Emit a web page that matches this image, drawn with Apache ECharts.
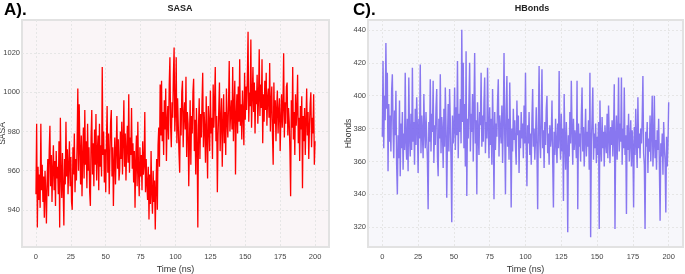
<!DOCTYPE html>
<html><head><meta charset="utf-8">
<script src="https://cdn.jsdelivr.net/npm/echarts@6/dist/echarts.min.js"></script>
<style>html,body{margin:0;padding:0;background:#fff}#c{width:685px;height:274px}</style>
</head><body><div id="c"></div>
<script>
// sampling step of the trajectory (ns)
const timeStep = 0.5;
const xTicks = [0, 25, 50, 75, 100, 125, 150, 175, 200];
const sasaTicks = [940, 960, 980, 1000, 1020];
const hbondTicks = [320, 340, 360, 380, 400, 420, 440];

const sasaValues = [
948,984,931,962,945,958,941,984,950,963,944,957,936,960,949,933,955,966,947,970,
983,952,968,944,961,973,950,965,942,970,956,962,948,975,931,987,958,946,969,951,
932,966,953,985,957,971,948,963,975,952,967,944,940,972,958,979,949,966,955,974,
1002,960,994,971,953,978,947,968,982,956,991,963,975,951,984,960,972,949,942,977,
991,958,974,952,981,963,989,955,970,978,950,984,962,973,957,1013,968,980,954,971,
949,975,993,959,979,948,968,985,991,957,972,942,964,977,953,970,988,961,976,955,
960,980,966,985,958,975,996,962,979,955,971,983,964,999,959,977,968,992,961,974,
954,970,941,965,978,952,985,960,947,972,957,968,950,975,958,963,990,949,966,953,
945,962,935,958,943,970,948,938,960,944,955,930,951,966,940,973,982,962,1004,978,
1006,975,990,968,996,981,1002,965,985,993,976,1004,1018,983,972,995,987,1009,1023,980,
990,1018,974,997,983,969,959,992,978,1000,1006,972,988,995,981,1008,967,990,984,952,
975,996,963,988,979,1000,1007,970,986,958,992,974,931,983,997,966,989,977,995,1010,
972,990,981,964,998,976,956,993,984,970,1001,979,987,966,1004,982,995,1013,975,988,
949,978,991,1005,970,986,997,962,983,999,974,990,968,1002,985,977,994,1016,980,989,
996,981,1013,975,992,1006,958,988,999,979,1003,985,1017,983,994,976,1001,989,973,1010,
986,1003,991,1008,1031,985,1000,993,1027,982,998,1013,990,1005,979,1001,994,1009,984,997,
1022,988,1004,992,1017,974,999,985,1006,991,1010,983,997,1002,987,1015,980,995,1003,978,
963,1005,984,996,975,992,1001,979,990,997,970,986,999,982,993,1020,977,995,984,1003,
1005,978,992,985,970,947,996,982,1013,976,990,968,999,983,991,1009,974,987,965,993,
981,998,951,988,975,992,968,985,1002,978,990,966,983,994,1000,972,987,979,999,963,
975
];

const hbondValues = [
375,421,368,400,385,432,392,414,354,395,372,388,366,403,413,380,362,391,376,403,
358,340,376,362,397,351,383,368,390,355,377,367,414,372,361,386,354,411,375,363,
389,367,417,372,384,358,392,370,399,381,353,386,374,419,365,388,377,362,401,379,
368,390,375,361,331,384,372,410,366,389,378,409,359,382,370,393,404,363,351,386,
374,413,365,387,379,356,392,369,405,381,338,373,395,366,404,384,360,323,388,371,
380,405,367,393,376,421,362,389,378,398,371,440,384,420,368,395,357,427,339,386,
374,397,420,366,389,378,401,360,392,426,371,385,340,396,377,364,390,382,414,369,
388,372,396,411,365,384,374,417,381,362,393,370,386,358,404,378,337,390,367,383,
375,397,410,363,388,379,371,394,359,384,426,376,340,391,412,369,386,361,408,378,
332,380,366,392,373,385,369,358,397,376,388,353,379,368,390,374,383,362,394,371,
414,368,345,382,371,390,364,377,358,386,404,369,380,361,374,393,366,331,384,418,
372,362,387,416,368,379,356,384,370,392,400,365,377,358,382,369,375,397,360,332,
378,364,386,371,359,383,368,415,374,361,389,366,380,336,401,372,355,384,369,317,
376,363,390,371,409,380,358,386,367,379,374,362,409,331,383,369,377,360,388,405,
366,381,357,374,392,363,378,369,385,355,414,314,372,386,405,361,377,368,383,359,
375,364,384,319,397,371,360,387,368,378,357,382,372,365,389,362,394,376,359,381,
370,385,363,379,407,319,374,388,361,377,411,366,383,372,411,358,380,368,405,364,
376,328,382,367,389,360,373,385,357,379,369,332,381,364,392,371,356,399,368,377,
362,380,371,386,412,365,358,319,378,369,384,353,374,366,388,360,379,400,357,371,
400,362,373,355,379,367,386,358,324,371,363,377,352,384,368,360,329,375,357,370,
396
];

const FONT = "'Liberation Sans',Arial,sans-serif";
const toPairs = arr => arr.map((v, i) => [i * timeStep, v]);

const chart = echarts.init(document.getElementById('c'), null, {renderer: 'canvas'});

function xAxisCfg(gi) {
  return {
    gridIndex: gi, type: 'value', min: -10, max: 210,
    name: 'Time (ns)', nameLocation: 'middle', nameGap: 18, nameMoveOverlap: false,
    nameTextStyle: {fontFamily: FONT, fontSize: 9, color: '#333'},
    axisLine: {show: false},
    axisTick: {show: false, customValues: xTicks},
    axisLabel: {customValues: xTicks, formatter: v => String(v), fontFamily: FONT, fontSize: 7.5, color: '#444', margin: 6},
    splitLine: {show: true, lineStyle: {color: '#e6e6e6', type: [2, 2], width: 1}}
  };
}
function yAxisCfg(gi, name, min, max, ticks, gap) {
  return {
    gridIndex: gi, type: 'value', min: min, max: max,
    name: name, nameLocation: 'middle', nameGap: gap, nameMoveOverlap: false,
    nameTextStyle: {fontFamily: FONT, fontSize: 8.5, color: '#333'},
    axisLine: {show: false},
    axisTick: {show: false, customValues: ticks},
    axisLabel: {customValues: ticks, formatter: v => String(v), fontFamily: FONT, fontSize: 7.5, color: '#444', margin: 2},
    splitLine: {show: true, lineStyle: {color: '#e6e6e6', type: [2, 2], width: 1}}
  };
}

chart.setOption({
  animation: false,
  backgroundColor: '#ffffff',
  title: [
    {text: 'A).', left: -1, top: -3, textStyle: {fontFamily: FONT, fontSize: 17, fontWeight: 'bold', color: '#000'}},
    {text: 'SASA', left: 175, top: -1, textAlign: 'center', textStyle: {fontFamily: FONT, fontSize: 9, fontWeight: 'bold', color: '#222'}},
    {text: 'C).', left: 348, top: -3, textStyle: {fontFamily: FONT, fontSize: 17, fontWeight: 'bold', color: '#000'}},
    {text: 'HBonds', left: 527, top: -1, textAlign: 'center', textStyle: {fontFamily: FONT, fontSize: 9, fontWeight: 'bold', color: '#222'}}
  ],
  grid: [
    {left: 22, top: 20, width: 307, height: 227, outerBoundsMode: 'none', containLabel: false, show: true, backgroundColor: '#faf5f7', borderColor: '#e2e2e2', borderWidth: 2},
    {left: 368, top: 20, width: 315, height: 227, outerBoundsMode: 'none', containLabel: false, show: true, backgroundColor: '#f7f7fb', borderColor: '#e2e2e2', borderWidth: 2}
  ],
  xAxis: [xAxisCfg(0), xAxisCfg(1)],
  yAxis: [
    yAxisCfg(0, 'SASA', 921, 1037, sasaTicks, 15),
    yAxisCfg(1, 'Hbonds', 308, 446, hbondTicks, 15)
  ],
  series: [
    {type: 'line', xAxisIndex: 0, yAxisIndex: 0, data: toPairs(sasaValues), showSymbol: false, sampling: null,
     lineStyle: {color: '#ff0000', width: 1.3}, itemStyle: {color: '#ff0000'}},
    {type: 'line', xAxisIndex: 1, yAxisIndex: 1, data: toPairs(hbondValues), showSymbol: false, sampling: null,
     lineStyle: {color: '#7b68ee', width: 1.4, opacity: 0.9}, itemStyle: {color: '#7b68ee'}}
  ]
});
</script></body></html>
